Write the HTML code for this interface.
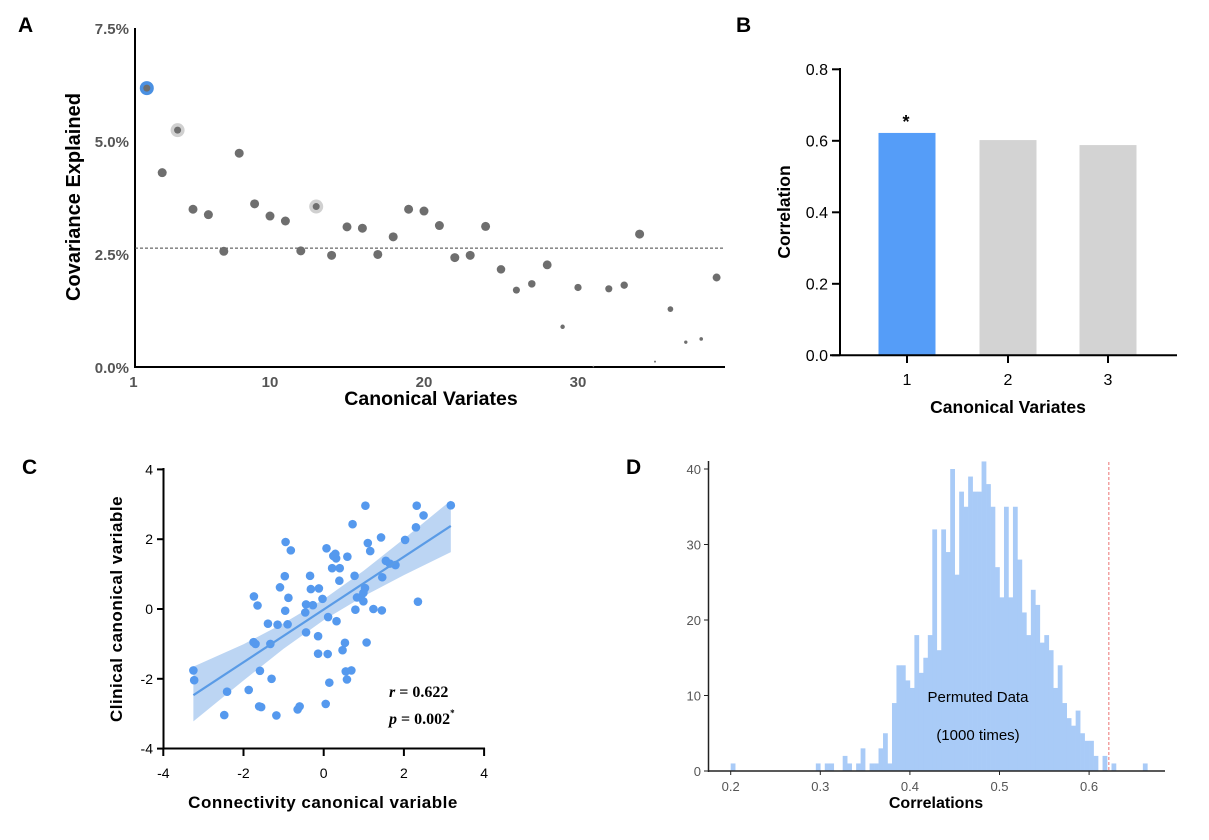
<!DOCTYPE html>
<html><head><meta charset="utf-8">
<style>
body{margin:0;background:#fff;}
svg{display:block;font-family:"Liberation Sans",Arial,sans-serif;}
</style></head>
<body>
<svg id="fig" width="1209" height="840" viewBox="0 0 1209 840">
<g id="pA"></g>
<g id="pB"></g>
<g id="pC"></g>
<g id="pD"></g>
<text x="18" y="32" font-size="21" font-weight="bold">A</text>
<text x="736" y="32" font-size="21" font-weight="bold">B</text>
<text x="22" y="474" font-size="21" font-weight="bold">C</text>
<text x="626" y="474" font-size="21" font-weight="bold">D</text>
</svg>
<script>
// ---- Panel A data ----
const aVariates=[2,3,4,5,6,7,8,9,10,11,12,13,14,15,16,17,18,19,20,21,22,23,24,25,26,27,28,29,30,31,32,33,34,35,36,37,38,39];
const aValues=[6.17,4.30,5.24,3.49,3.37,2.56,4.73,3.61,3.34,3.23,2.57,3.55,2.47,3.10,3.07,2.49,2.88,3.49,3.45,3.13,2.42,2.47,3.11,2.16,1.70,1.84,2.26,0.89,1.76,0.01,1.73,1.81,2.94,0.12,1.28,0.55,0.62,1.98];
const aHighlight=[2,4,13];
const aTicks=[0,2.5,5.0,7.5];
const aXTicks=[1,10,20,30];
const aThreshold=2.63;
// ---- Panel B data ----
const bCats=["1","2","3"];
const bValues=[0.622,0.602,0.588];
const bTicks=[0,0.2,0.4,0.6,0.8];
// ---- Panel C data ----
const cX=[-3.25,-3.23,-2.41,-2.48,-1.87,-1.74,-1.65,-1.75,-1.70,-1.59,-1.56,-1.61,-1.39,-1.33,-1.30,-1.18,-1.15,-1.09,-0.97,-0.95,-0.82,-0.96,-0.88,-0.90,-0.65,-0.60,-0.44,-0.46,-0.44,-0.34,-0.32,-0.27,-0.12,-0.14,-0.14,-0.03,0.07,0.11,0.10,0.14,0.05,0.21,0.24,0.31,0.32,0.40,0.39,0.47,0.53,0.55,0.58,0.59,0.69,0.72,0.77,0.79,0.83,0.92,0.99,0.99,1.03,1.04,1.07,1.10,1.16,1.24,1.45,1.43,1.46,1.55,1.65,1.79,2.03,2.30,2.32,2.35,2.49,3.17,0.29];
const cY=[-1.76,-2.04,-2.37,-3.04,-2.32,0.36,0.10,-0.95,-1.00,-1.77,-2.81,-2.79,-0.42,-1.00,-2.00,-3.05,-0.45,0.62,0.94,1.92,1.68,-0.05,0.32,-0.44,-2.88,-2.79,0.13,-0.10,-0.67,0.95,0.57,0.11,0.59,-0.78,-1.28,0.29,1.74,-0.23,-1.29,-2.11,-2.72,1.17,1.52,1.45,-0.35,1.17,0.81,-1.18,-0.97,-1.79,-2.02,1.50,-1.76,2.43,0.95,-0.02,0.33,0.33,0.22,0.46,0.60,2.96,-0.96,1.89,1.66,0.00,-0.04,2.05,0.91,1.38,1.30,1.26,1.98,2.34,2.96,0.21,2.68,2.97,1.58];
const cFitX=[-3.25,3.17];
const cFitY=[-2.47,2.38];
const cBandX=[-3.25,-2,-1,0,1,2,3.17];
const cBandLo=[-3.22,-2.05,-1.14,-0.32,0.37,0.97,1.63];
const cBandHi=[-1.65,-1.01,-0.41,0.28,1.10,2.01,3.11];
const cTicks=[-4,-2,0,2,4];
// ---- Panel D data ----
const dBinStart=[0.2,0.295,0.305,0.31,0.325,0.33,0.34,0.345,0.355,0.36,0.365,0.37,0.375,0.38,0.385,0.39,0.395,0.40,0.405,0.41,0.415,0.42,0.425,0.43,0.435,0.44,0.445,0.45,0.455,0.46,0.465,0.47,0.475,0.48,0.485,0.49,0.495,0.50,0.505,0.51,0.515,0.52,0.525,0.53,0.535,0.54,0.545,0.55,0.555,0.56,0.565,0.57,0.575,0.58,0.585,0.59,0.595,0.60,0.605,0.615,0.625,0.66];
const dCounts=[1,1,1,1,2,1,1,3,1,1,3,5,1,9,14,14,12,11,18,13,15,18,32,16,32,29,40,26,37,35,39,37,37,41,38,35,27,23,35,23,35,28,21,18,24,22,17,18,16,11,14,9,7,6,8,5,4,4,2,2,1,1];
const dBinWidth=0.005;
const dObserved=0.622;
const dXTicks=[0.2,0.3,0.4,0.5,0.6];
const dYTicks=[0,10,20,30,40];

const NS="http://www.w3.org/2000/svg";
function mk(parent,tag,attrs,text){const e=document.createElementNS(NS,tag);for(const k in attrs)e.setAttribute(k,attrs[k]);if(text!==undefined)e.textContent=text;parent.appendChild(e);return e;}

// ===== Panel A =====
(function(){
const g=document.getElementById('pA');
const x=v=>270+(v-10)*15.4, y=v=>367-v*45.2;
let e;
e=mk(g,'line',{x1:135,y1:28,x2:135,y2:367,stroke:'#000','stroke-width':2});

e=mk(g,'line',{x1:134,y1:367,x2:725,y2:367,stroke:'#000','stroke-width':2});

aTicks.forEach(t=>{e=mk(g,'text',{x:129,y:y(t)+6,'text-anchor':'end','font-size':15,'font-weight':'bold',fill:'#555'},t.toFixed(1)+'%');
});
aXTicks.forEach(t=>{e=mk(g,'text',{x:x(t)+(t===1?2:0),y:387,'text-anchor':'middle','font-size':15,'font-weight':'bold',fill:'#555'},t);
});
e=mk(g,'line',{x1:135,y1:y(aThreshold),x2:725,y2:y(aThreshold),stroke:'#444','stroke-width':1,'stroke-dasharray':'3,2'});

aVariates.forEach((v,i)=>{const val=aValues[i];const r=Math.min(4.5,0.8+val*1.6);
if(aHighlight.includes(v)){e=mk(g,'circle',{cx:x(v),cy:y(val),r:r+2.5,fill:i===0?'#4a90e2':'#d0d0d0'});
}
e=mk(g,'circle',{cx:x(v),cy:y(val),r:i===0||aHighlight.includes(v)?3.5:r,fill:'#6e6e6e'});
});
e=mk(g,'text',{x:431,y:405,'text-anchor':'middle','font-size':19.5,'font-weight':'bold'},'Canonical Variates');

e=mk(g,'text',{x:0,y:0,transform:'translate(80,197) rotate(-90)','text-anchor':'middle','font-size':20,'font-weight':'bold'},'Covariance Explained');

})();

// ===== Panel B =====
(function(){
const g=document.getElementById('pB');
const y=v=>355.3-v*357.5; const cx=[907,1008,1108]; const bw=57;
let e;
bValues.forEach((v,i)=>{e=mk(g,'rect',{x:cx[i]-bw/2,y:y(v),width:bw,height:y(0)-y(v),fill:i===0?'#559df8':'#d3d3d3'});
});
e=mk(g,'line',{x1:840,y1:68,x2:840,y2:356,stroke:'#000','stroke-width':2});

e=mk(g,'line',{x1:830,y1:355.3,x2:1177,y2:355.3,stroke:'#000','stroke-width':2});

bTicks.forEach(t=>{mk(g,'line',{x1:832,y1:y(t),x2:840,y2:y(t),stroke:'#000','stroke-width':2});
e=mk(g,'text',{x:828,y:y(t)+5.5,'text-anchor':'end','font-size':16},t.toFixed(1));
});
bCats.forEach((c,i)=>{mk(g,'line',{x1:cx[i],y1:355,x2:cx[i],y2:363,stroke:'#000','stroke-width':2});
e=mk(g,'text',{x:cx[i],y:385,'text-anchor':'middle','font-size':16},c);
});
e=mk(g,'text',{x:906,y:y(bValues[0])-5,'text-anchor':'middle','font-size':18,'font-weight':'bold'},'*');

e=mk(g,'text',{x:1008,y:413,'text-anchor':'middle','font-size':17.5,'font-weight':'bold'},'Canonical Variates');

e=mk(g,'text',{x:0,y:0,transform:'translate(790,212) rotate(-90)','text-anchor':'middle','font-size':17.5,'font-weight':'bold'},'Correlation');

})();

// ===== Panel C =====
(function(){
const g=document.getElementById('pC');
const x=v=>323.7+v*40.1, y=v=>609+v*-34.9;
let e;
let pts=cBandX.map((v,i)=>x(v)+','+y(cBandHi[i])).concat(cBandX.slice().reverse().map((v,i)=>x(v)+','+y(cBandLo[cBandX.length-1-i])));
e=mk(g,'polygon',{points:pts.join(' '),fill:'#bcd5f3'});

cX.forEach((v,i)=>{e=mk(g,'circle',{cx:x(v),cy:y(cY[i]),r:4.3,fill:'#5599ee'});
});
e=mk(g,'line',{x1:x(cFitX[0]),y1:y(cFitY[0]),x2:x(cFitX[1]),y2:y(cFitY[1]),stroke:'#5a9be6','stroke-width':2.2});

e=mk(g,'line',{x1:163.5,y1:468,x2:163.5,y2:749,stroke:'#000','stroke-width':2});

e=mk(g,'line',{x1:163,y1:748.5,x2:485,y2:748.5,stroke:'#000','stroke-width':2});

cTicks.forEach(t=>{mk(g,'line',{x1:157,y1:y(t),x2:164,y2:y(t),stroke:'#000','stroke-width':2});
e=mk(g,'text',{x:153,y:y(t)+5,'text-anchor':'end','font-size':14},t);

mk(g,'line',{x1:x(t),y1:748,x2:x(t),y2:756,stroke:'#000','stroke-width':2});
e=mk(g,'text',{x:x(t),y:778,'text-anchor':'middle','font-size':14},t);
});
e=mk(g,'text',{x:323,y:808,'text-anchor':'middle','font-size':17,'font-weight':'bold','letter-spacing':'0.5'},'Connectivity canonical variable');

e=mk(g,'text',{x:0,y:0,transform:'translate(122,609) rotate(-90)','text-anchor':'middle','font-size':17,'font-weight':'bold','letter-spacing':'0.5'},'Clinical canonical variable');

e=mk(g,'text',{x:389,y:697,'font-size':16,'font-weight':'bold','font-family':'Liberation Serif, serif'});
e.innerHTML='<tspan font-style="italic">r</tspan> = 0.622';

e=mk(g,'text',{x:389,y:724,'font-size':16,'font-weight':'bold','font-family':'Liberation Serif, serif'});
e.innerHTML='<tspan font-style="italic">p</tspan> = 0.002<tspan font-size="9" dy="-8">*</tspan>';

})();

// ===== Panel D =====
(function(){
const g=document.getElementById('pD');
const x=v=>730.7+(v-0.2)*896, y=v=>771-v*7.55;
let e;
dBinStart.forEach((b,i)=>{e=mk(g,'rect',{x:x(b),y:y(dCounts[i]),width:x(b+dBinWidth)-x(b)+0.3,height:y(0)-y(dCounts[i]),fill:'#a9cbf7'});
});
e=mk(g,'line',{x1:x(dObserved),y1:462,x2:x(dObserved),y2:771,stroke:'#f08a8a','stroke-width':1.2,'stroke-dasharray':'3,2'});

e=mk(g,'line',{x1:708.5,y1:461,x2:708.5,y2:772,stroke:'#222','stroke-width':1.5});

e=mk(g,'line',{x1:708,y1:771,x2:1165,y2:771,stroke:'#222','stroke-width':1.5});

dYTicks.forEach(t=>{mk(g,'line',{x1:704,y1:y(t),x2:708,y2:y(t),stroke:'#222'});
e=mk(g,'text',{x:701,y:y(t)+5,'text-anchor':'end','font-size':13,fill:'#555'},t);
});
dXTicks.forEach(t=>{mk(g,'line',{x1:x(t),y1:771,x2:x(t),y2:775,stroke:'#222'});
e=mk(g,'text',{x:x(t),y:791,'text-anchor':'middle','font-size':13,fill:'#555'},t.toFixed(1));
});
e=mk(g,'text',{x:978,y:702,'text-anchor':'middle','font-size':15},'Permuted Data');

e=mk(g,'text',{x:978,y:740,'text-anchor':'middle','font-size':15},'(1000 times)');

e=mk(g,'text',{x:936,y:808,'text-anchor':'middle','font-size':16,'font-weight':'bold'},'Correlations');

})();
</script>
</body></html>
